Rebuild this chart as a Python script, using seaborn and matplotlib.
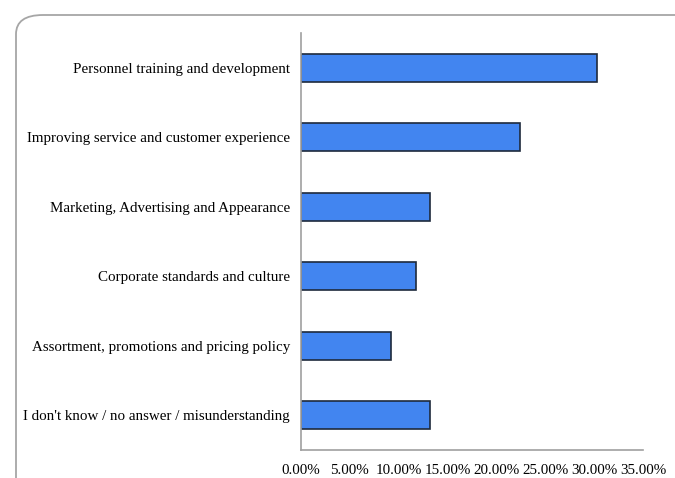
import matplotlib
matplotlib.use("Agg")
import matplotlib.pyplot as plt
import seaborn as sns
import pandas as pd
from matplotlib.patches import FancyBboxPatch
from matplotlib.ticker import FuncFormatter

categories = [
    "Personnel training and development",
    "Improving service and customer experience",
    "Marketing, Advertising and Appearance",
    "Corporate standards and culture",
    "Assortment, promotions and pricing policy",
    "I don't know / no answer / misunderstanding",
]
shares = [30.3, 22.4, 13.2, 11.8, 9.2, 13.2]
tick_values = [0, 5, 10, 15, 20, 25, 30, 35]

df = pd.DataFrame({"category": categories, "share": shares})

sns.set_theme(style="white")
plt.rcParams["font.family"] = ["Liberation Serif", "DejaVu Serif"]

fig = plt.figure(figsize=(6.75, 4.78), dpi=100)
W, H = 675, 478

# rounded frame around the chart area, running off the right and bottom edges
frame = FancyBboxPatch((16 / W, -0.2), 1.2, 1 - 15 / H + 0.2,
                       boxstyle="round,pad=0,rounding_size=0.04",
                       transform=fig.transFigure, facecolor="none",
                       edgecolor="#a6a6a6", linewidth=1.3, zorder=-1)
fig.patches.append(frame)

ax = fig.add_axes([301 / W, 1 - 450 / H, (643 - 301) / W, (450 - 33) / H])
ax.set_facecolor("none")

sns.barplot(data=df, y="category", x="share", orient="h", ax=ax,
            color="#4285f0", saturation=1, width=0.4,
            edgecolor="#1e2a3c", linewidth=1.2)

ax.set_xlim(0, 35)
ax.set_ylim(5.5, -0.5)
ax.set_xticks(tick_values)
ax.xaxis.set_major_formatter(FuncFormatter(lambda v, p: f"{v:.2f}%"))
ax.set_xlabel("")
ax.set_ylabel("")
ax.tick_params(axis="both", length=0, labelsize=10.8, colors="black")
ax.tick_params(axis="x", pad=10)
ax.tick_params(axis="y", pad=8)

for side in ["top", "right"]:
    ax.spines[side].set_visible(False)
for side in ["left", "bottom"]:
    ax.spines[side].set_color("#a0a0a0")
    ax.spines[side].set_linewidth(1.2)

fig.savefig("out.png", dpi=100, facecolor="white")
